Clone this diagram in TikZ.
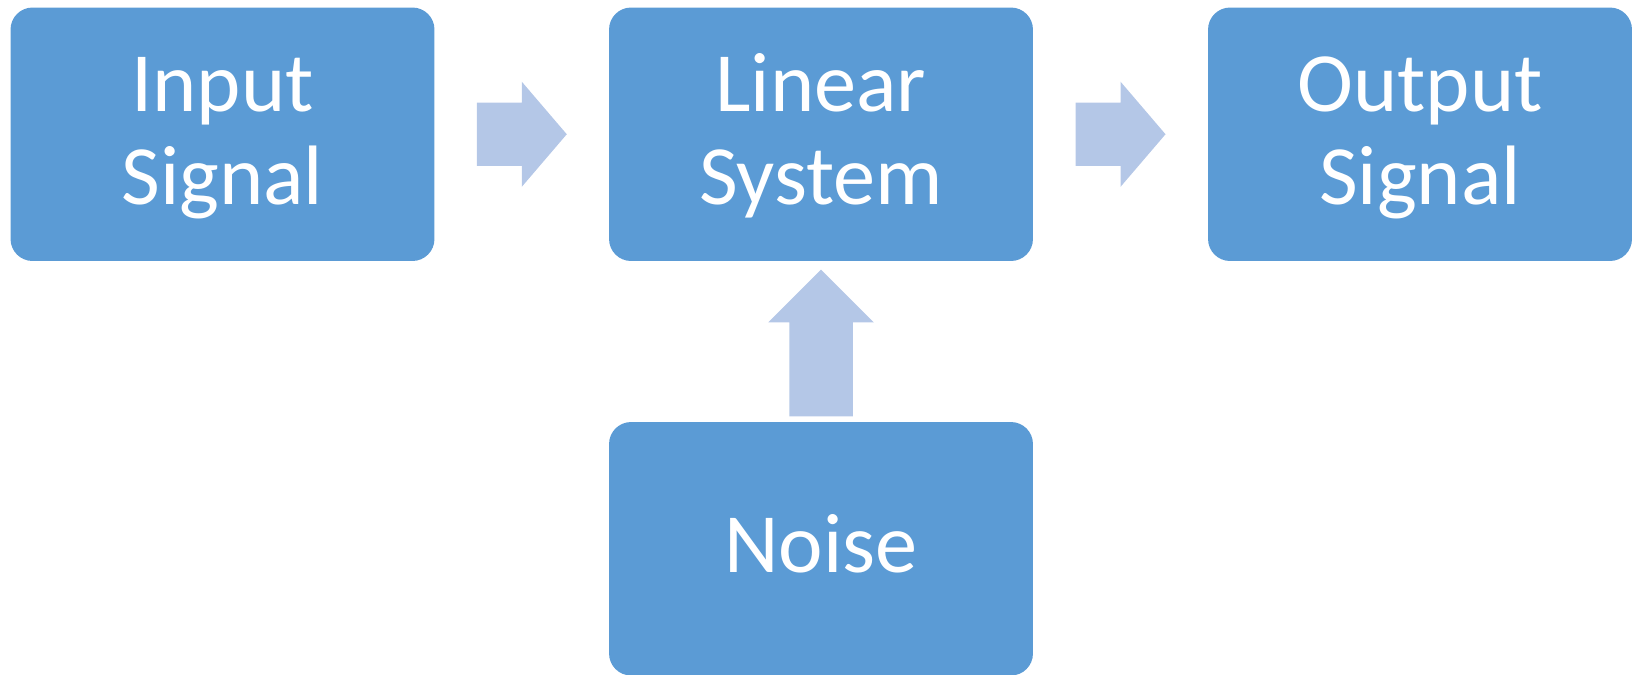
\documentclass[tikz,border=0pt]{standalone}
\usepackage{fontspec}
\setmainfont{Carlito}
\usetikzlibrary{calc}

\definecolor{boxblue}{HTML}{5B9BD5}
\definecolor{flowblue}{HTML}{B4C7E7}

\begin{document}
\begin{tikzpicture}[
  x=0.02cm, y=-0.02cm,
  block/.style={rectangle, fill=boxblue, minimum width=8.48cm, minimum height=5.07cm, rounded corners=0.44cm, text=white, font={\fontsize{48}{53}\selectfont}, align=center, inner sep=0pt, text height=1.08cm, text depth=0.14cm},
  twoline/.style={text height=2.94cm},
  flow/.style={fill=flowblue}
]
  \useasboundingbox (0,0) rectangle (1638,674);

  \node[block, twoline] (inp) at (222.5, 134.25) {Input\\Signal};
  \node[block, twoline] (sys) at (821, 134.25) {Linear\\System};
  \node[block, twoline] (outp) at (1420, 134.25) {Output\\Signal};
  \node[block] (noise) at (821, 548.75) {Noise};

  % Input -> System
  \fill[flow] ($(inp.east)!0.5!(sys.west)$) ++(-45,-31.6) -- ++(45,0) -- ++(0,-21) -- ++(45,52.6) -- ++(-45,52.6) -- ++(0,-21) -- ++(-45,0) -- cycle;

  % System -> Output
  \fill[flow] ($(sys.east)!0.5!(outp.west)$) ++(-45,-31.6) -- ++(45,0) -- ++(0,-21) -- ++(45,52.6) -- ++(-45,52.6) -- ++(0,-21) -- ++(-45,0) -- cycle;

  % Noise -> System
  \fill[flow] (noise.north) ++(-31.75,-5.3) -- ++(0,-94) -- ++(-21,0) -- ++(52.75,-52.7) -- ++(52.75,52.7) -- ++(-21,0) -- ++(0,94) -- cycle;
\end{tikzpicture}
\end{document}
